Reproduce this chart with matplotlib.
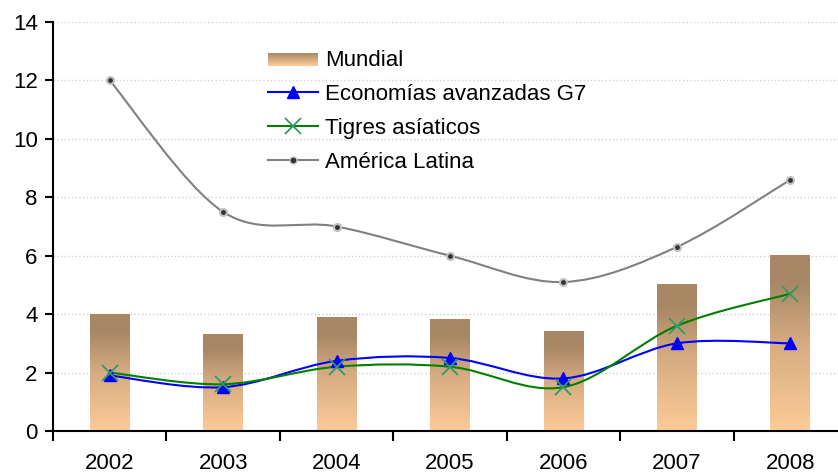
import numpy as np
import matplotlib.pyplot as plt
from matplotlib.path import Path
from matplotlib.patches import PathPatch, Rectangle, Patch
from matplotlib.colors import LinearSegmentedColormap, to_rgb
from matplotlib.legend_handler import HandlerBase
from matplotlib.lines import Line2D

plt.rcParams['font.family'] = ['Liberation Sans', 'DejaVu Sans']

years = ['2002', '2003', '2004', '2005', '2006', '2007', '2008']
mundial = [4.0, 3.3, 3.9, 3.8, 3.4, 5.0, 6.0]
g7 = [1.9, 1.5, 2.4, 2.5, 1.8, 3.0, 3.0]
tigres = [2.0, 1.6, 2.2, 2.2, 1.5, 3.6, 4.7]
latina = [12.0, 7.5, 7.0, 6.0, 5.1, 6.3, 8.6]

c_top = '#A88765'
c_bot = '#FDCB98'
cmap = LinearSegmentedColormap.from_list(
    'mund', [(0, c_bot), (0.5, '#D6AC82'), (0.85, c_top), (1, c_top)])

#======================================
fig = plt.figure(figsize=(8.38, 4.74), dpi=100)
ax = fig.add_axes([53/838, 43/474, 794/838, 409/474])
#======================================

x = np.arange(len(years))


def smooth_path(xs, ys):
    # Catmull-Rom style bezier, like the spreadsheet "smoothed line"
    pts = np.column_stack([xs, ys]).astype(float)
    verts = [pts[0]]
    codes = [Path.MOVETO]
    n = len(pts)
    for i in range(n - 1):
        p0 = pts[i - 1] if i > 0 else pts[i]
        p1 = pts[i]
        p2 = pts[i + 1]
        p3 = pts[i + 2] if i + 2 < n else pts[i + 1]
        c1 = p1 + (p2 - p0) / 6.0
        c2 = p2 - (p3 - p1) / 6.0
        verts += [c1, c2, p2]
        codes += [Path.CURVE4] * 3
    return Path(verts, codes)


# gradient bars
bars = ax.bar(x, mundial, width=0.35, color='none', zorder=2)
grad = np.linspace(0, 1, 256).reshape(-1, 1)
for b in bars:
    x0, y0 = b.get_x(), b.get_y()
    ax.imshow(grad, extent=[x0, x0 + b.get_width(), y0, y0 + b.get_height()],
              origin='lower', cmap=cmap, aspect='auto', zorder=2)

series = [
    (g7, '#0000FF', dict(marker='^', ms=8, mfc='#0000FF', mec='#0000FF')),
    (tigres, '#008000', dict(marker='x', ms=11, mew=1.3, mec='#339966')),
    (latina, '#808080', dict(marker='o', ms=5, mfc='#333333', mec='#C0C0C0', mew=1.5)),
]
for ys, col, mk in series:
    ax.add_patch(PathPatch(smooth_path(x, ys), fc='none', ec=col, lw=1.5, zorder=3))
    ax.plot(x, ys, ls='none', zorder=4, **mk)

ax.set_xlim(-0.5, 6.5)
ax.set_ylim(0, 14)
ax.set_yticks(range(0, 15, 2))
ax.set_xticks(x)
ax.set_xticklabels(years)
ax.set_xticks(np.arange(-0.5, 7, 1), minor=True)
ax.tick_params(axis='x', which='major', length=0, pad=16, labelsize=16)
ax.tick_params(axis='x', which='minor', length=7, width=1.5, direction='out')
ax.tick_params(axis='y', length=6, width=1.5, direction='out', labelsize=16, pad=5)
ax.grid(axis='y', color='#D0D0D0', ls=':', lw=1)
ax.set_axisbelow(True)
for s in ['top', 'right']:
    ax.spines[s].set_visible(False)
for s in ['left', 'bottom']:
    ax.spines[s].set_linewidth(1.5)


class GradHandler(HandlerBase):
    def create_artists(self, legend, orig, xd, yd, w, h, fs, trans):
        arts = []
        n = 20
        hh = h * 0.85
        y0 = yd + (h - hh) / 2 - h * 0.1
        for i in range(n):
            t = i / (n - 1)
            c = np.array(to_rgb(c_bot)) * t + np.array(to_rgb(c_top)) * (1 - t)
            r = Rectangle((xd, y0 + hh * (n - 1 - i) / n), w, hh / n + 0.3,
                          fc=c, ec='none', transform=trans)
            arts.append(r)
        return arts


handles = [
    Patch(label='Mundial'),
    Line2D([], [], color='#0000FF', lw=1.5, marker='^', ms=8, label='Economías avanzadas G7'),
    Line2D([], [], color='#008000', lw=1.5, marker='x', ms=11, mew=1.3, mec='#339966', label='Tigres asíaticos'),
    Line2D([], [], color='#808080', lw=1.5, marker='o', ms=5, mfc='#333333', mec='#C0C0C0', label='América Latina'),
]
leg = fig.legend(handles=handles, handler_map={Patch: GradHandler()},
                 loc='upper left', bbox_to_anchor=(268/838, 1 - 50/474),
                 frameon=False, fontsize=16, handlelength=2.25, handletextpad=0.3,
                 labelspacing=0.58, borderaxespad=0, borderpad=0)

plt.savefig('out.png', dpi=100)
